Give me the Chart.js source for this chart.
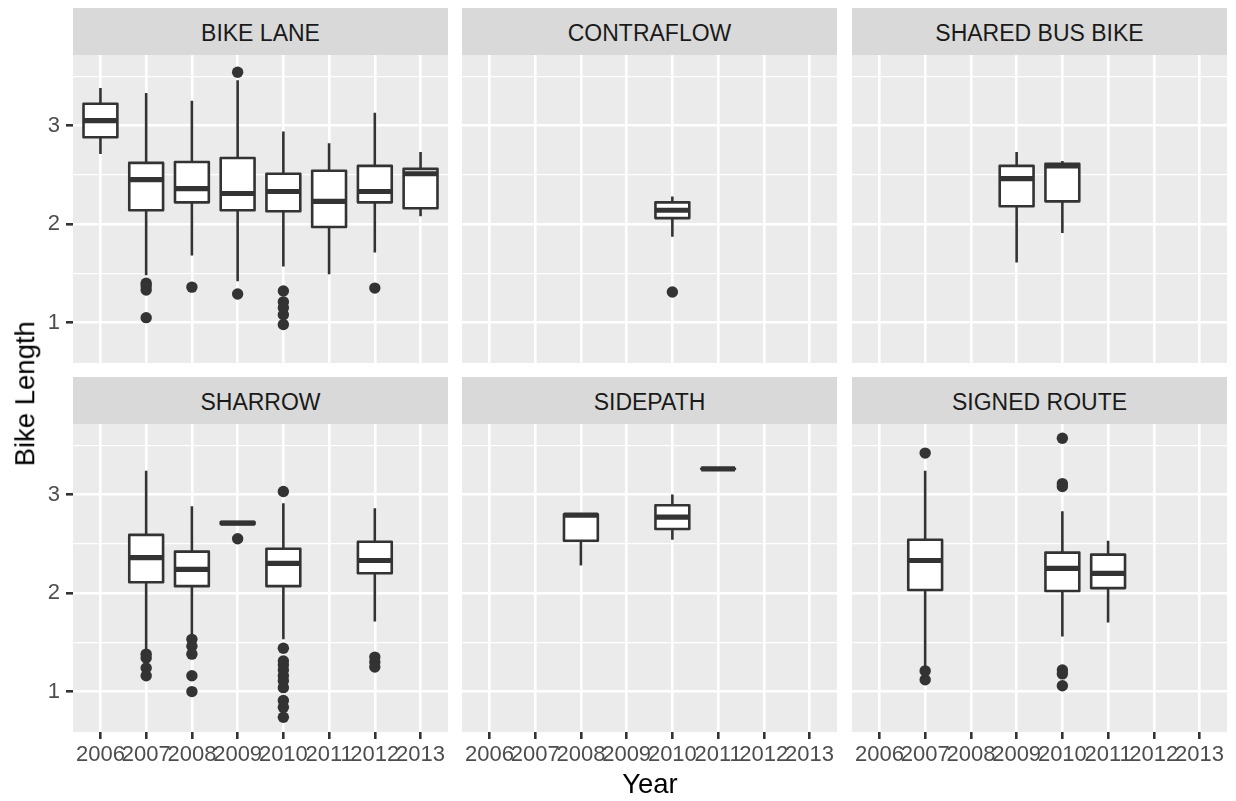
<!DOCTYPE html>
<html>
<head>
<meta charset="utf-8">
<script src="https://cdn.jsdelivr.net/npm/chart.js@4.4.0/dist/chart.umd.min.js"></script>
<style>
  body { margin: 0; background: #fff; font-family: "Liberation Sans", Arial, sans-serif; }
  #wrap { position: relative; width: 1236px; height: 801px; overflow: hidden; }
  canvas { position: absolute; }
  .strip { position: absolute; width: 375px; height: 47px; background: #D9D9D9; color: #1A1A1A;
           font-size: 23px; line-height: 50px; text-align: center; white-space: nowrap; }
  .title { position: absolute; color: #000; font-size: 27.5px; line-height: 1; text-align: center; white-space: nowrap; }
</style>
</head>
<body>
<div id="wrap"></div>
<script>
// categories and axis ticks
const years = ['2006', '2007', '2008', '2009', '2010', '2011', '2012', '2013'];
const facets = ['BIKE LANE', 'CONTRAFLOW', 'SHARED BUS BIKE', 'SHARROW', 'SIDEPATH', 'SIGNED ROUTE'];
const yMajor = [1, 2, 3];
const yMinor = [1.5, 2.5, 3.5];
const yLimits = [0.59, 3.715];

// box stats: whisker low, q1, median, q3, whisker high, outliers
const bikeLane = [
  { year: '2006', lo: 2.71, q1: 2.88, med: 3.05, q3: 3.22, hi: 3.38, out: [] },
  { year: '2007', lo: 1.48, q1: 2.14, med: 2.45, q3: 2.62, hi: 3.33, out: [1.40, 1.37, 1.33, 1.05] },
  { year: '2008', lo: 1.68, q1: 2.22, med: 2.36, q3: 2.63, hi: 3.25, out: [1.36] },
  { year: '2009', lo: 1.42, q1: 2.14, med: 2.31, q3: 2.67, hi: 3.46, out: [3.54, 1.29] },
  { year: '2010', lo: 1.57, q1: 2.13, med: 2.33, q3: 2.51, hi: 2.94, out: [1.32, 1.21, 1.15, 1.08, 0.98] },
  { year: '2011', lo: 1.49, q1: 1.97, med: 2.23, q3: 2.54, hi: 2.82, out: [] },
  { year: '2012', lo: 1.71, q1: 2.22, med: 2.33, q3: 2.59, hi: 3.13, out: [1.35] },
  { year: '2013', lo: 2.08, q1: 2.16, med: 2.51, q3: 2.56, hi: 2.73, out: [] }
];
const contraflow = [
  { year: '2010', lo: 1.87, q1: 2.06, med: 2.14, q3: 2.22, hi: 2.28, out: [1.31] }
];
const sharedBusBike = [
  { year: '2009', lo: 1.61, q1: 2.18, med: 2.46, q3: 2.59, hi: 2.73, out: [] },
  { year: '2010', lo: 1.91, q1: 2.23, med: 2.59, q3: 2.61, hi: 2.64, out: [] }
];
const sharrow = [
  { year: '2007', lo: 1.41, q1: 2.11, med: 2.36, q3: 2.59, hi: 3.24, out: [1.38, 1.34, 1.24, 1.16] },
  { year: '2008', lo: 1.58, q1: 2.07, med: 2.24, q3: 2.42, hi: 2.88, out: [1.53, 1.46, 1.38, 1.16, 1.00] },
  { year: '2009', lo: 2.70, q1: 2.70, med: 2.71, q3: 2.72, hi: 2.72, out: [2.55] },
  { year: '2010', lo: 1.53, q1: 2.07, med: 2.30, q3: 2.45, hi: 2.91,
    out: [3.03, 1.44, 1.31, 1.27, 1.22, 1.16, 1.11, 1.04, 0.91, 0.84, 0.74] },
  { year: '2012', lo: 1.71, q1: 2.20, med: 2.33, q3: 2.52, hi: 2.86, out: [1.35, 1.30, 1.25] }
];
const sidepath = [
  { year: '2008', lo: 2.28, q1: 2.53, med: 2.79, q3: 2.80, hi: 2.80, out: [] },
  { year: '2010', lo: 2.54, q1: 2.65, med: 2.77, q3: 2.89, hi: 3.00, out: [] },
  { year: '2011', lo: 3.26, q1: 3.26, med: 3.26, q3: 3.26, hi: 3.26, out: [] }
];
const signedRoute = [
  { year: '2007', lo: 1.24, q1: 2.03, med: 2.33, q3: 2.54, hi: 3.24, out: [3.42, 1.21, 1.12] },
  { year: '2010', lo: 1.56, q1: 2.02, med: 2.25, q3: 2.41, hi: 2.83, out: [3.57, 3.11, 3.08, 1.22, 1.18, 1.06] },
  { year: '2011', lo: 1.70, q1: 2.05, med: 2.20, q3: 2.39, hi: 2.53, out: [] }
];
const panelStats = [bikeLane, contraflow, sharedBusBike, sharrow, sidepath, signedRoute];

// layout
const colLeft = [73, 462, 852];
const rowTop = [55, 424];
const plotW = 375, plotH = 308, stripH = 47;
const boxWidth = 0.74;
const dark = '#333333';

Chart.defaults.font.family = '"Liberation Sans", Arial, sans-serif';

const panelBg = {
  id: 'panelBg',
  beforeDraw(chart) {
    const a = chart.chartArea;
    chart.ctx.save();
    chart.ctx.fillStyle = '#EBEBEB';
    chart.ctx.fillRect(a.left, a.top, a.right - a.left, a.bottom - a.top);
    chart.ctx.restore();
  }
};

function boxPlugin(stats) {
  return {
    id: 'boxes',
    afterDatasetsDraw(chart) {
      const { ctx, scales: { x, y } } = chart;
      ctx.save();
      ctx.strokeStyle = dark;
      ctx.lineJoin = 'round';
      stats.forEach(s => {
        const i = years.indexOf(s.year);
        const cx = x.getPixelForValue(i);
        const x0 = x.getPixelForValue(i - boxWidth / 2);
        const x1 = x.getPixelForValue(i + boxWidth / 2);
        const top = y.getPixelForValue(s.q3), bot = y.getPixelForValue(s.q1);
        ctx.lineWidth = 2.6;
        ctx.beginPath();
        ctx.moveTo(cx, y.getPixelForValue(s.hi)); ctx.lineTo(cx, top);
        ctx.moveTo(cx, bot); ctx.lineTo(cx, y.getPixelForValue(s.lo));
        ctx.stroke();
        ctx.fillStyle = '#FFFFFF';
        ctx.fillRect(x0, top, x1 - x0, bot - top);
        ctx.strokeRect(x0, top, x1 - x0, bot - top);
        ctx.lineWidth = 5.2;
        ctx.beginPath();
        const m = y.getPixelForValue(s.med);
        ctx.moveTo(x0, m); ctx.lineTo(x1, m);
        ctx.stroke();
      });
      ctx.restore();
    }
  };
}

const wrap = document.getElementById('wrap');

facets.forEach((name, p) => {
  const col = p % 3, row = Math.floor(p / 3);
  const showY = col === 0, showX = row === 1;

  const strip = document.createElement('div');
  strip.className = 'strip';
  strip.style.left = colLeft[col] + 'px';
  strip.style.top = (rowTop[row] - stripH) + 'px';
  strip.textContent = name;
  wrap.appendChild(strip);

  const yAxisW = showY ? colLeft[0] : 0;
  const xAxisH = showX ? 44 : 0;
  const canvas = document.createElement('canvas');
  canvas.width = plotW + yAxisW;
  canvas.height = plotH + xAxisH;
  canvas.style.left = (colLeft[col] - yAxisW) + 'px';
  canvas.style.top = rowTop[row] + 'px';
  wrap.appendChild(canvas);

  const stats = panelStats[p];
  const points = stats.flatMap(s => s.out.map(v => ({ x: years.indexOf(s.year), y: v })));

  new Chart(canvas, {
    type: 'scatter',
    data: {
      datasets: [{
        data: points,
        pointRadius: 5.7,
        pointHoverRadius: 5.7,
        pointBackgroundColor: dark,
        pointBorderWidth: 0
      }]
    },
    options: {
      responsive: false,
      animation: false,
      events: [],
      layout: { padding: 0, autoPadding: false },
      plugins: { legend: { display: false }, tooltip: { enabled: false } },
      scales: {
        x: {
          type: 'linear',
          min: -0.6,
          max: 7.6,
          afterBuildTicks: s => { s.ticks = years.map((_, i) => ({ value: i })); },
          afterFit: s => { s.height = xAxisH; s.paddingLeft = 0; s.paddingRight = 0; s.paddingTop = 0; s.paddingBottom = 0; },
          border: { display: false },
          grid: { color: '#FFFFFF', lineWidth: 2.6, drawTicks: showX, tickLength: 7, tickColor: dark, tickWidth: 2.6 },
          ticks: {
            display: showX, autoSkip: false, maxRotation: 0, minRotation: 0, padding: 3,
            color: '#4D4D4D', font: { size: 22 },
            callback: v => years[v]
          }
        },
        y: {
          type: 'linear',
          min: yLimits[0],
          max: yLimits[1],
          afterBuildTicks: s => {
            s.ticks = yMajor.concat(yMinor).sort((a, b) => a - b).map(v => ({ value: v }));
          },
          afterFit: s => { s.width = yAxisW; s.paddingLeft = 0; s.paddingRight = 0; s.paddingTop = 0; s.paddingBottom = 0; },
          border: { display: false },
          grid: {
            color: '#FFFFFF',
            lineWidth: c => yMinor.includes(c.tick.value) ? 1.3 : 2.6,
            drawTicks: showY,
            tickLength: 7,
            tickWidth: 2.6,
            tickColor: c => yMinor.includes(c.tick.value) ? 'rgba(0,0,0,0)' : dark
          },
          ticks: {
            display: showY, padding: 6, color: '#4D4D4D', font: { size: 22 },
            callback: v => yMajor.includes(v) ? String(v) : ''
          }
        }
      }
    },
    plugins: [panelBg, boxPlugin(stats)]
  });
});

const xTitle = document.createElement('div');
xTitle.className = 'title';
xTitle.textContent = 'Year';
xTitle.style.left = '450px';
xTitle.style.width = '400px';
xTitle.style.top = '770px';
wrap.appendChild(xTitle);

const yTitle = document.createElement('div');
yTitle.className = 'title';
yTitle.textContent = 'Bike Length';
yTitle.style.width = '300px';
yTitle.style.height = '27.5px';
yTitle.style.left = (24.5 - 150) + 'px';
yTitle.style.top = (394 - 13.75) + 'px';
yTitle.style.transform = 'rotate(-90deg)';
wrap.appendChild(yTitle);
</script>
</body>
</html>
